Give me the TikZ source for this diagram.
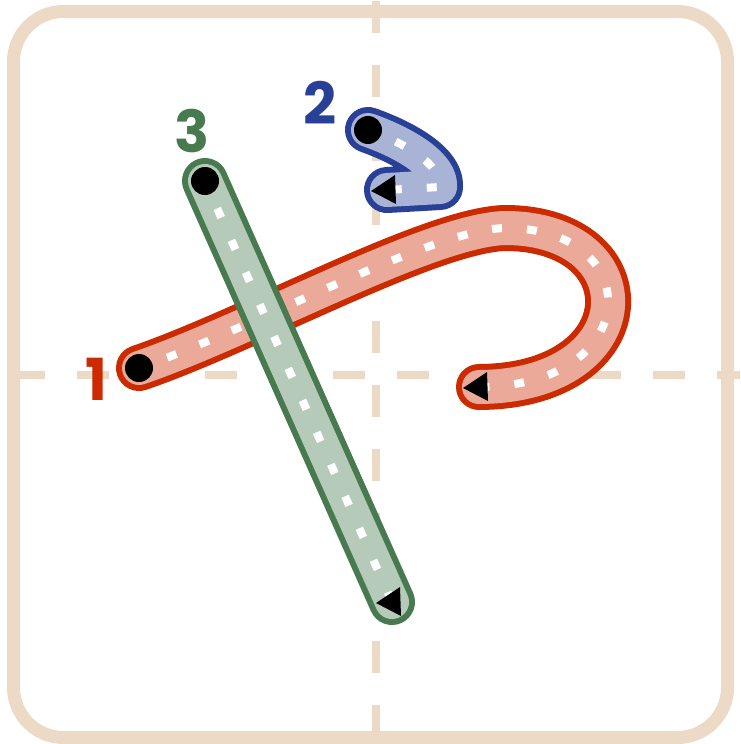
\documentclass[tikz,border=0pt]{standalone}
\usepackage{fontspec}
\setmainfont{Poppins}
\usetikzlibrary{positioning}

\definecolor{guide}{RGB}{237,218,198}
\definecolor{strokeone}{RGB}{204,42,0}
\definecolor{stroketwo}{RGB}{40,64,150}
\definecolor{strokethree}{RGB}{72,122,80}

\begin{document}
\begin{tikzpicture}[x=1pt, y=-1pt,
                frame/.style={guide, line width=13pt, rounded corners=50pt},
                guideline/.style={guide, line width=8pt, dash pattern=on 32pt off 32pt},
                strokeouter/.style={draw=#1, line width=46pt, line cap=round, line join=round},
                strokeinner/.style={draw=#1!40, line width=34pt},
                strokedots/.style={draw=white, line width=8pt, line cap=butt, dash pattern=on 10pt off 25pt, dash phase=-30pt},
                startdot/.style={circle, fill=black, minimum size=28pt, inner sep=0pt},
                numlabel/.style={inner sep=0pt, font=\fontsize{58}{60}\selectfont\bfseries}
            ]
            \useasboundingbox (0,0) rectangle (740,744);

            % Rahmen und Hilfslinien
            \draw[guideline] (376,1) -- (376,744);
            \draw[guideline] (13,374.5) -- (740,374.5);
            \draw[frame] (13.5,11.5) rectangle (727.5,737.5);

            % Anfang und Ende der Striche
            \coordinate (s1) at (139,368);
            \coordinate (e1) at (479,387);
            \coordinate (s2) at (368,130);
            \coordinate (e2) at (387,190);
            \coordinate (s3) at (205,181);
            \coordinate (e3) at (392,602);

            % Strich 1
            \begin{scope}[blend group=multiply]
                \begin{scope}[blend mode=normal]
                    \draw[strokeouter=strokeone, postaction={strokeinner=strokeone}]
                        (s1) .. controls (250,330) and (430,230) .. (505,228)
                        .. controls (648,228) and (645,386) .. (e1);
                \end{scope}
            \end{scope}
            \draw[strokedots] (s1) .. controls (250,330) and (430,230) .. (505,228)
                .. controls (648,228) and (645,386) .. (e1);

            % Strich 2
            \begin{scope}[blend group=multiply]
                \begin{scope}[blend mode=normal]
                    \draw[strokeouter=stroketwo, postaction={strokeinner=stroketwo}]
                        (s2) .. controls (405,143) and (442,165) .. (440,187) -- (e2);
                \end{scope}
            \end{scope}
            \draw[strokedots] (s2) .. controls (405,143) and (442,165) .. (440,187) -- (e2);

            % Strich 3
            \begin{scope}[blend group=multiply]
                \begin{scope}[blend mode=normal]
                    \draw[strokeouter=strokethree, postaction={strokeinner=strokethree}]
                        (s3) -- (e3);
                \end{scope}
            \end{scope}
            \draw[strokedots] (s3) -- (e3);

            % Punkte und Pfeile
            \node[startdot] (d1) at (s1) {};
            \node[startdot] (d2) at (s2) {};
            \node[startdot] (d3) at (s3) {};
            \fill (e1) ++(-16,1) -- ++(24,-16) -- ++(1,29) -- cycle;
            \fill (e2) ++(-16,1) -- ++(24,-16) -- ++(1,29) -- cycle;
            \fill (e3) ++(-16,1) -- ++(24,-16) -- ++(1,29) -- cycle;

            % Nummern
            \node[numlabel, strokeone] (n1) at (96.5,379.5) {1};
            \node[numlabel, stroketwo] (n2) at (320.5,103) {2};
            \node[numlabel, strokethree] (n3) at (192,131) {3};

        \end{tikzpicture}
\end{document}
